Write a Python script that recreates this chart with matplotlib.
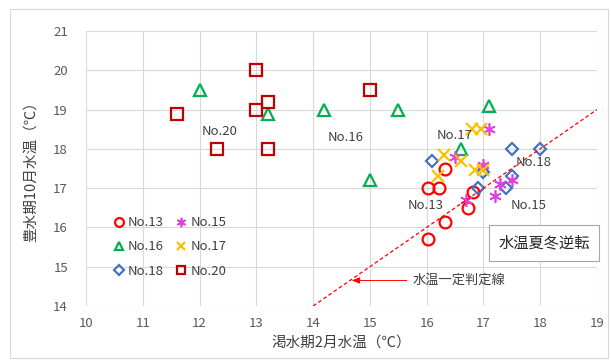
import matplotlib.pyplot as plt
from matplotlib.patches import Rectangle

plt.rcParams['font.family'] = ['Noto Sans CJK JP', 'DejaVu Sans']

# data: (Feb temp, Oct temp) per station
no13_x = [16.33, 16.03, 16.21, 16.82, 16.72, 16.32, 16.03]
no13_y = [17.5, 17.0, 17.0, 16.9, 16.5, 16.15, 15.7]
no15_x = [16.5, 17.1, 17.0, 17.3, 17.5, 17.2, 16.7]
no15_y = [17.8, 18.5, 17.6, 17.1, 17.2, 16.8, 16.7]
no16_x = [12.0, 13.2, 14.2, 15.5, 17.1, 16.6, 15.0]
no16_y = [19.5, 18.9, 19.0, 19.0, 19.1, 18.0, 17.2]
no17_x = [16.8, 16.95, 16.3, 16.6, 16.85, 17.0, 16.2]
no17_y = [18.5, 18.5, 17.85, 17.7, 17.45, 17.45, 17.3]
no18_x = [16.1, 17.5, 18.0, 17.0, 16.9, 17.5, 17.4]
no18_y = [17.7, 18.0, 18.0, 17.4, 17.0, 17.3, 17.0]
no20_x = [11.6, 13.0, 13.0, 13.2, 12.3, 13.2, 15.0]
no20_y = [18.9, 20.0, 19.0, 19.2, 18.0, 18.0, 19.5]

series = [
    ("No.13", no13_x, no13_y, 'o', '#FF0000'),
    ("No.16", no16_x, no16_y, '^', '#00B050'),
    ("No.18", no18_x, no18_y, 'D', '#4472C4'),
    ("No.15", no15_x, no15_y, (6, 2, 0), '#E040E0'),
    ("No.17", no17_x, no17_y, 'x', '#FFC000'),
    ("No.20", no20_x, no20_y, 's', '#C00000'),
]

# label positions
labels = [("No.20", 12.35, 18.45), ("No.16", 14.58, 18.3), ("No.17", 16.5, 18.33),
          ("No.18", 17.88, 17.64), ("No.13", 15.98, 16.57), ("No.15", 17.8, 16.57)]

fig = plt.figure(figsize=(6.11, 3.61), dpi=100)
fig.patches.append(Rectangle((10 / 611, 3 / 361), 598 / 611, 349 / 361, transform=fig.transFigure,
                             fill=False, edgecolor='#d9d9d9', lw=0.8))
ax = fig.add_axes([86 / 611, 55 / 361, 511 / 611, 275 / 361])

for name, xs, ys, m, c in series:
    if isinstance(m, str):
        sz = {'o': 8.5, '^': 8.5, 'D': 6.5, 's': 8.5, 'x': 8.5}[m]
        ew = 1.6
    else:
        sz, ew = 9, 1.2
    ax.plot(xs, ys, linestyle='none', marker=m, markersize=sz, markerfacecolor='none',
            markeredgecolor=c, markeredgewidth=ew, label=name)

ax.plot([14, 19], [14, 19], color='#FF0000', lw=0.9, ls=(0, (3, 2)))

for t, x, y in labels:
    ax.text(x, y, t, fontsize=9.5, color='#404040', ha='center', va='center')

ax.annotate("水温一定判定線", xy=(14.68, 14.65), xytext=(15.75, 14.65), fontsize=9.5,
            color='#404040', ha='left', va='center',
            arrowprops=dict(arrowstyle='-|>,head_length=0.5,head_width=0.2', color='#FF0000',
                            lw=0.7, shrinkA=2, shrinkB=0))

ax.text(18.07, 15.6, "水温夏冬逆転", fontsize=11, color='#262626', ha='center', va='center',
        bbox=dict(boxstyle='square,pad=0.6', facecolor='white', edgecolor='#a6a6a6', lw=0.8))

ax.set_xlim(10, 19)
ax.set_ylim(14, 21)
ax.set_xticks(range(10, 20))
ax.set_yticks(range(14, 22))
ax.grid(True, color='#d9d9d9', lw=0.8)
ax.set_axisbelow(True)
for s in ax.spines.values():
    s.set_visible(False)
ax.tick_params(length=0, labelsize=9.5, labelcolor='#595959')
ax.tick_params(axis='x', pad=8)
ax.tick_params(axis='y', pad=13)

ax.set_xlabel("渇水期2月水温（℃）", fontsize=10.5, color='#404040', labelpad=4)
ax.set_ylabel("豊水期10月水温（℃）", fontsize=10.5, color='#404040', labelpad=11)

leg = ax.legend(ncol=2, loc='upper left', bbox_to_anchor=(0.025, 0.37), frameon=False,
                fontsize=9.5, handletextpad=0.1, columnspacing=0.7, labelspacing=0.85,
                markerscale=0.75, handlelength=1.2)
for t in leg.get_texts():
    t.set_color('#404040')

fig.savefig("out.png", dpi=100)
